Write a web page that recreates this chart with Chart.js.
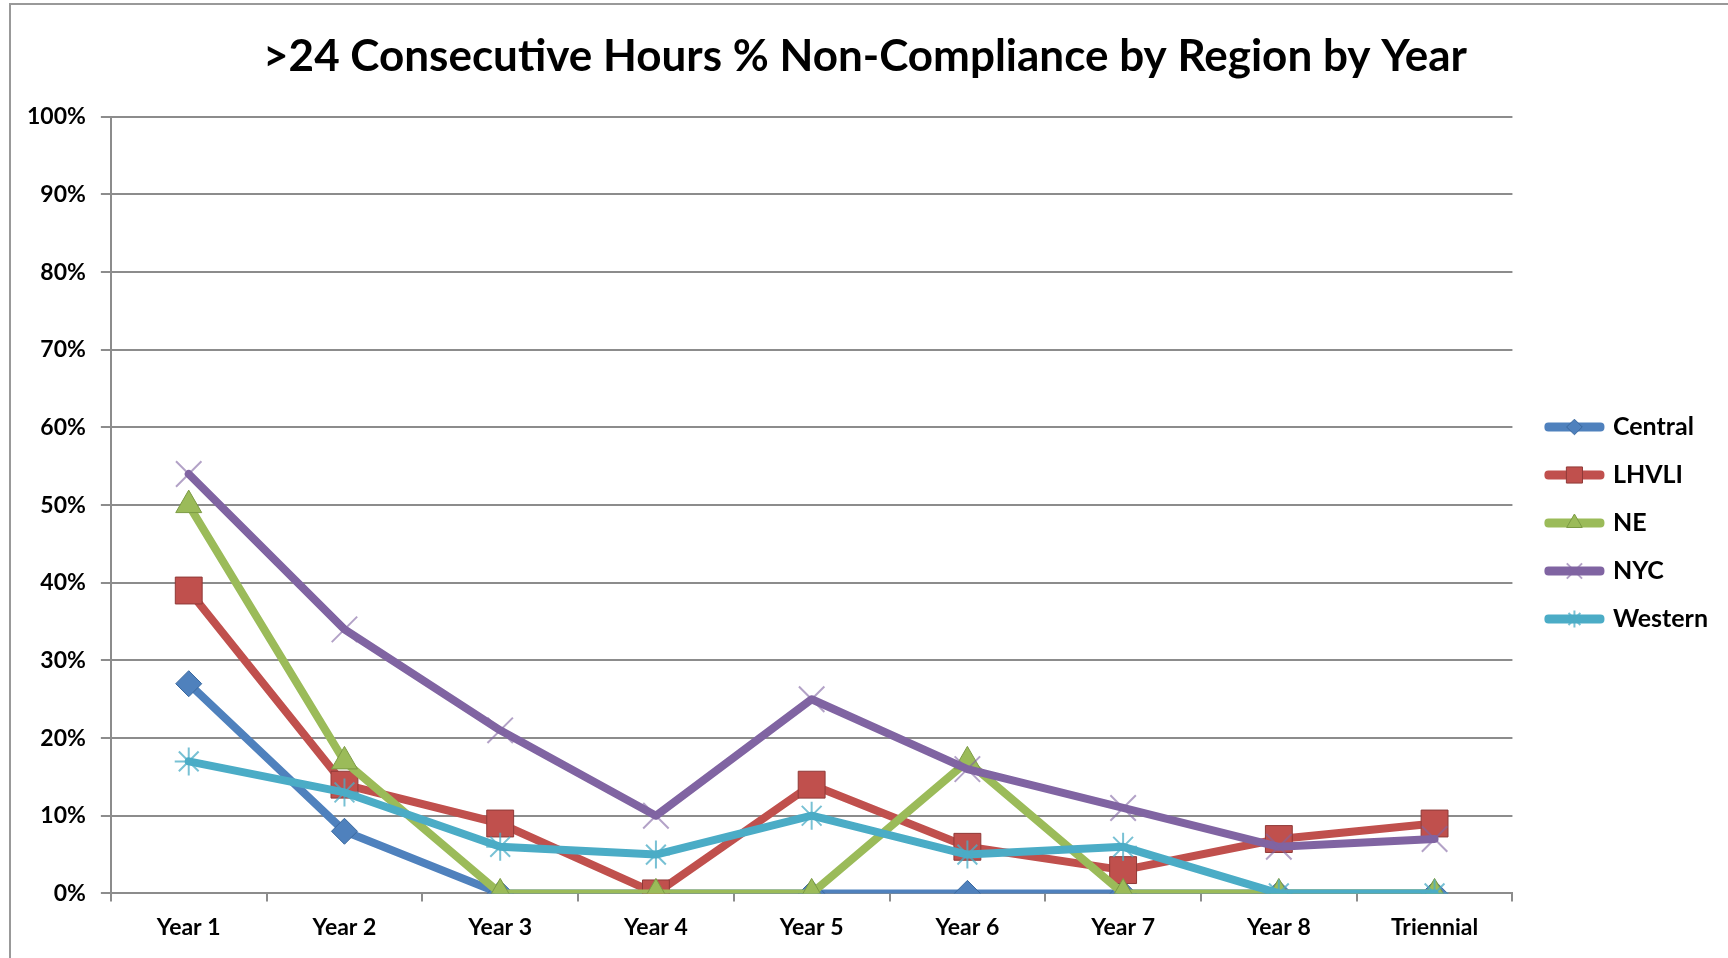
<!DOCTYPE html>
<html>
<head>
<meta charset="utf-8">
<title>&gt;24 Consecutive Hours % Non-Compliance by Region by Year</title>
<script src="https://cdn.jsdelivr.net/npm/chart.js@4.4.1/dist/chart.umd.min.js"></script>
<style>
html,body{margin:0;padding:0;background:#fff;}
body{width:1728px;height:958px;position:relative;overflow:hidden;}
.frame{position:absolute;left:9px;top:3px;right:-10px;bottom:-10px;border-left:2px solid #999;border-top:2px solid #999;}
#wrap{position:absolute;left:0;top:0;width:1728px;height:958px;}
</style>
</head>
<body>
<div class="frame"></div>
<div id="wrap"><canvas id="ch"></canvas></div>
<script>
// categories + series (% non-compliance)
const years=['Year 1','Year 2','Year 3','Year 4','Year 5','Year 6','Year 7','Year 8','Triennial'];
const central=[27,8,0,0,0,0,0,0,0];
const lhvli=[39,14,9,0,14,6,3,7,9];
const ne=[50,17,0,0,0,17,0,0,0];
const nyc=[54,34,21,10,25,16,11,6,7];
const western=[17,13,6,5,10,5,6,0,0];
const yTicks=[0,10,20,30,40,50,60,70,80,90,100];

const FONT='Lato, "Open Sans", sans-serif';
const GRID='#8c8c8c';
const C={blue:'#4F81BD',red:'#C0504D',green:'#9BBB59',purple:'#8064A2',aqua:'#4BACC6'};

const line=(label,data,color,ps,r,pFill,pEdge,pw,order)=>({
  label,data,borderColor:color,backgroundColor:color,borderWidth:8,
  borderCapStyle:'round',borderJoinStyle:'round',tension:0,
  pointStyle:ps,pointRadius:r,pointHoverRadius:r,pointBackgroundColor:pFill,pointBorderColor:pEdge,pointBorderWidth:pw,
  order
});

const datasets=[
  line('Central',central,C.blue,'rectRot',13,C.blue,'#3a689e',1,5),
  line('LHVLI',lhvli,C.red,'rect',19,C.red,'#8f3a38',1,4),
  line('NE',ne,C.green,'triangle',15,C.green,'#7b9a44',1,3),
  line('NYC',nyc,C.purple,'crossRot',18,'rgba(0,0,0,0)','rgba(128,100,162,0.6)',2,2),
  line('Western',western,C.aqua,'star',14,'rgba(0,0,0,0)','rgba(75,172,198,0.75)',2,1),
];

// markers on top of the legend lines
const legendMarks={id:'legendMarks',afterDraw(chart){
  const lg=chart.legend; if(!lg||!lg.legendHitBoxes||!Chart.helpers) return;
  const ctx=chart.ctx, bw=lg.options.labels.boxWidth;
  lg.legendItems.forEach((it,i)=>{
    const hb=lg.legendHitBoxes[i], d=chart.data.datasets[it.datasetIndex];
    ctx.save();
    ctx.fillStyle=d.pointBackgroundColor; ctx.strokeStyle=d.pointBorderColor; ctx.lineWidth=d.pointBorderWidth;
    Chart.helpers.drawPoint(ctx,{pointStyle:d.pointStyle,radius:d.pointRadius*0.6,rotation:0,borderWidth:d.pointBorderWidth},hb.left+bw/2,hb.top+hb.height/2);
    ctx.restore();
  });
}};

new Chart(document.getElementById('ch'),{
  type:'line',
  data:{labels:years,datasets},
  options:{
    responsive:true,maintainAspectRatio:false,animation:false,
    layout:{padding:{left:12,right:10,top:0,bottom:5}},
    plugins:{
      title:{display:true,text:'>24 Consecutive Hours % Non-Compliance by Region by Year',color:'#000',
        font:{family:FONT,size:44,weight:'bold'},padding:{top:30,bottom:34}},
      legend:{position:'right',
        title:{display:true,text:'',font:{size:10},padding:{top:81,bottom:0}},
        labels:{color:'#000',font:{family:FONT,size:25,weight:'bold'},
        boxWidth:52,boxHeight:1,padding:23,sort:(a,b)=>a.datasetIndex-b.datasetIndex}},
      tooltip:{enabled:false}
    },
    scales:{
      x:{offset:true,
        grid:{drawOnChartArea:false,offset:true,tickLength:8,color:GRID,lineWidth:2},
        border:{color:GRID,width:2},
        ticks:{color:'#000',font:{family:FONT,size:23,weight:'bold'},padding:12,maxRotation:0}},
      y:{min:0,max:100,afterBuildTicks:s=>{s.ticks=yTicks.map(v=>({value:v}));},
        grid:{color:GRID,lineWidth:2,tickLength:10},border:{color:GRID,width:2},
        ticks:{color:'#000',font:{family:FONT,size:23,weight:'bold'},padding:15,callback:v=>v+'%'}},
      // thin spacer between plot and legend
      gap:{position:'right',display:true,grid:{display:false},border:{display:false},ticks:{display:false},afterFit:s=>{s.width=13;}}
    }
  },
  plugins:[legendMarks]
});
</script>
</body>
</html>
